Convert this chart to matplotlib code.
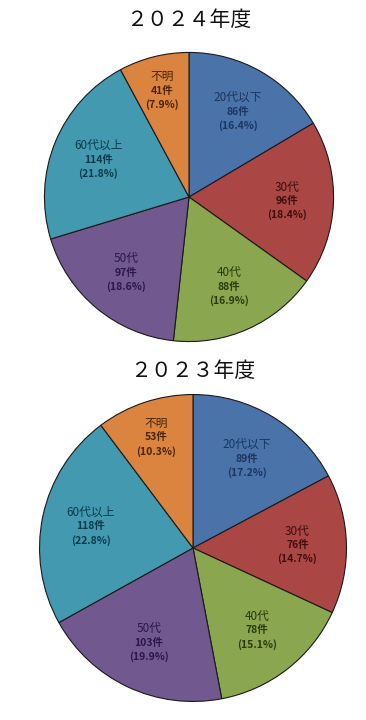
import matplotlib
matplotlib.use("Agg")
import matplotlib.pyplot as plt
import numpy as np

plt.rcParams['font.family'] = ['Noto Sans CJK JP', 'DejaVu Sans']

# categories in clockwise order starting from 12 o'clock
categories = ["20代以下", "30代", "40代", "50代", "60代以上", "不明"]

counts_2024 = [86, 96, 88, 97, 114, 41]
pct_2024 = ["16.4%", "18.4%", "16.9%", "18.6%", "21.8%", "7.9%"]

counts_2023 = [89, 76, 78, 103, 118, 53]
pct_2023 = ["17.2%", "14.7%", "15.1%", "19.9%", "22.8%", "10.3%"]

colors = ["#4A73AA", "#AA4744", "#8AA64F", "#71598F", "#4299B0", "#DB843F"]
text_colors = ["#1C3561", "#3E0E0E", "#2B3A0E", "#2A1848", "#0E3A4A", "#4A2508"]

W, H = 366, 720
fig = plt.figure(figsize=(W / 100, H / 100), dpi=100)
fig.patch.set_facecolor("white")


def draw_pie(cx, cy, r, title, title_y, counts, pcts):
    ax = fig.add_axes([(cx - r) / W, 1 - (cy + r) / H, 2 * r / W, 2 * r / H])
    wedges, _ = ax.pie(counts, colors=colors, startangle=90, counterclock=False,
                       radius=1, wedgeprops=dict(edgecolor="#1a1a1a", linewidth=0.8))
    ax.set_xlim(-1.01, 1.01)
    ax.set_ylim(-1.01, 1.01)
    ax.set_aspect("equal")
    ax.axis("off")

    step = 14.0 / r
    for w, cat, n, p, tc in zip(wedges, categories, counts, pcts, text_colors):
        ang = np.deg2rad((w.theta1 + w.theta2) / 2)
        d = 0.76 if (w.theta2 - w.theta1) < 45 else 0.68
        x, y = d * np.cos(ang), d * np.sin(ang)
        ax.text(x, y + step, cat, ha="center", va="center", fontsize=8.5, color=tc)
        ax.text(x, y, f"{n}件", ha="center", va="center", fontsize=7.5,
                color=tc, fontweight="bold")
        ax.text(x, y - step, f"({p})", ha="center", va="center", fontsize=7.5,
                color=tc, fontweight="bold")

    fig.text(cx / W, 1 - title_y / H, title, ha="center", va="center",
             fontsize=15, color="#111111")


draw_pie(189, 197, 146, "２０２４年度", 20, counts_2024, pct_2024)
draw_pie(193, 548, 155, "２０２３年度", 371, counts_2023, pct_2023)

fig.savefig("out.png", dpi=100, facecolor="white")
